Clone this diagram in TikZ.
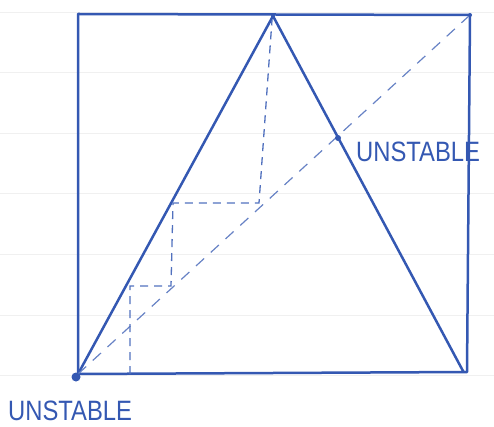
\documentclass[tikz,border=0pt]{standalone}
\usepackage{fontspec}
\setmainfont{Liberation Sans}
\definecolor{pen}{RGB}{52,88,178}
\begin{document}
\begin{tikzpicture}[x=1pt,y=-1pt,
  penline/.style={draw=pen, line width=2.5pt, line cap=round, line join=round},
  dashline/.style={draw=pen!85, line width=1.3pt, dash pattern=on 8pt off 6pt},
  lbl/.style={text=pen, font=\fontsize{28}{28}\selectfont, inner sep=0pt, xscale=0.85},
  rule/.style={draw=gray!12, line width=1pt},
  dotmark/.style={fill=pen, circle, inner sep=0pt}]
\useasboundingbox (0,0) rectangle (494,427);
\foreach \y in {12.5,73,133.5,194,254.5,315,375.5} \draw[rule] (0,\y) -- (494,\y);
\coordinate (BL) at (78,374);
\coordinate (TL) at (78,14);
\coordinate (TR) at (470,15);
\coordinate (BR) at (467,372);
\coordinate (apex) at (273,16);
\coordinate (base) at (463,371);
\coordinate (fix) at (338,138);
\coordinate (x0) at (130,374);
\coordinate (a1) at (130,286);
\coordinate (d1) at (171,286);
\coordinate (a2) at (173,203);
\coordinate (d2) at (259,203);
\coordinate (a3) at (272,20);
% box
\draw[penline] (BL) -- (TL) -- (TR) -- (BR) -- cycle;
% tent
\draw[penline] (BL) -- (apex) -- (base);
% diagonal
\draw[dashline, draw=pen!75, line width=1.2pt, dash pattern=on 11pt off 9pt] (BL) -- (TR);
% cobweb
\draw[dashline] (x0) -- (a1) -- (d1) -- (a2) -- (d2) -- (a3);
% dots
\node[dotmark, minimum size=9pt] (p0) at (76,377) {};
\node[dotmark, minimum size=6pt] (p1) at (fix) {};
\node[dotmark, minimum size=4pt] at (apex) {};
\node[dotmark, minimum size=4pt] at (TR) {};
\node[dotmark, minimum size=3pt] at (base) {};
% labels
\node[lbl, anchor=base west] (u1) at (8,420) {UNSTABLE};
\node[lbl, anchor=base west] (u2) at (356,162) {UNSTABLE};
\end{tikzpicture}
\end{document}
